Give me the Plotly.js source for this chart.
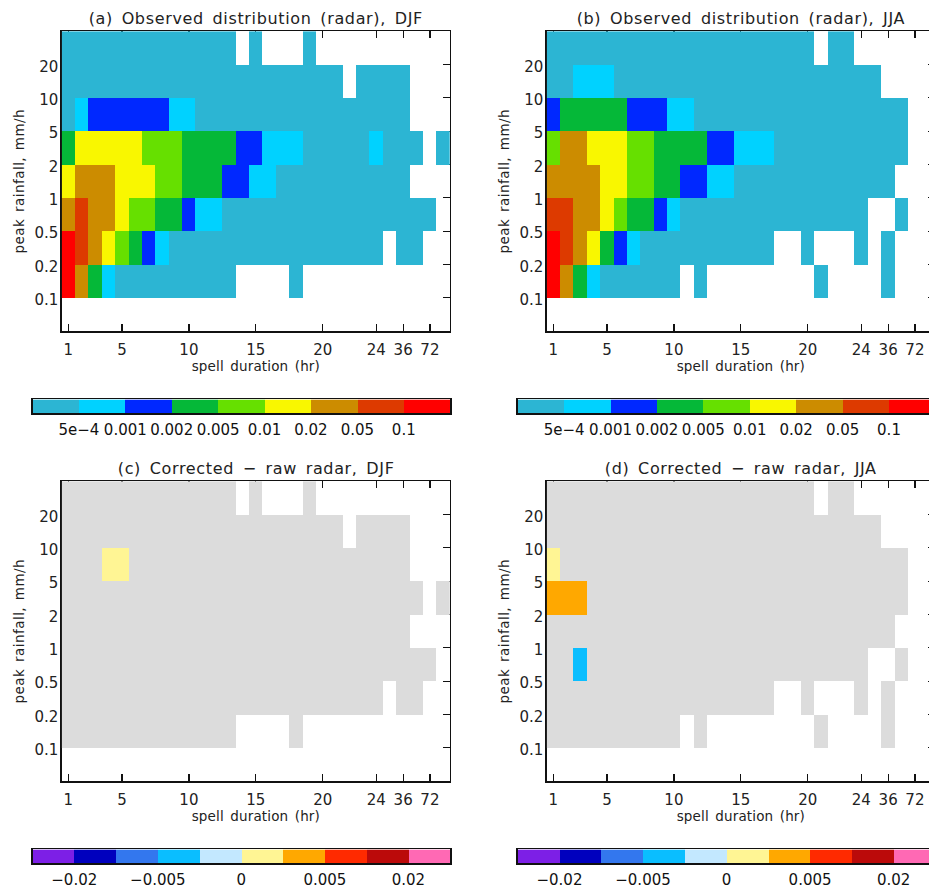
<!DOCTYPE html>
<html><head><meta charset="utf-8">
<script src="https://cdn.plot.ly/plotly-3.0.1.min.js"></script>
<style>html,body{margin:0;padding:0;background:#fff;overflow:hidden}#c{width:945px;height:890px}
#c .annotation-text{letter-spacing:0.65px;word-spacing:3px}
#c .xtitle,#c .x3title,#c .x5title,#c .x7title{letter-spacing:0.15px;word-spacing:2px}
#c .ytitle,#c .y3title,#c .y5title,#c .y7title{letter-spacing:0.45px;word-spacing:2px}</style>
</head><body><div id="c"></div>
<script>
const _ = null;
// Bin index per cell. Rows run top to bottom: 20+, 10-20, 5-10, 2-5, 1-2, 0.5-1, 0.2-0.5, 0.1-0.2, <0.1
const obsDJF = [
[0,0,0,0,0,0,0,0,0,0,0,0,0,_,0,_,_,_,0,_,_,_,_,_,_,_,_,_,_],
[0,0,0,0,0,0,0,0,0,0,0,0,0,0,0,0,0,0,0,0,0,_,0,0,0,0,_,_,_],
[0,1,2,2,2,2,2,2,1,1,0,0,0,0,0,0,0,0,0,0,0,0,0,0,0,0,_,_,_],
[3,5,5,5,5,5,4,4,4,3,3,3,3,2,2,1,1,1,0,0,0,0,0,1,0,0,0,_,0],
[5,6,6,6,5,5,5,4,4,3,3,3,2,2,1,1,0,0,0,0,0,0,0,0,0,0,_,_,_],
[6,7,6,6,5,4,4,3,3,2,1,1,0,0,0,0,0,0,0,0,0,0,0,0,0,0,0,0,_],
[8,7,6,5,4,3,2,1,0,0,0,0,0,0,0,0,0,0,0,0,0,0,0,0,_,0,0,_,_],
[8,6,3,1,0,0,0,0,0,0,0,0,0,_,_,_,_,0,_,_,_,_,_,_,_,_,_,_,_],
[_,_,_,_,_,_,_,_,_,_,_,_,_,_,_,_,_,_,_,_,_,_,_,_,_,_,_,_,_]];
const obsJJA = [
[0,0,0,0,0,0,0,0,0,0,0,0,0,0,0,0,0,0,0,0,_,0,0,_,_,_,_,_,_],
[0,0,1,1,1,0,0,0,0,0,0,0,0,0,0,0,0,0,0,0,0,0,0,0,0,_,_,_,_],
[2,3,3,3,3,3,2,2,2,1,1,0,0,0,0,0,0,0,0,0,0,0,0,0,0,0,0,_,_],
[4,6,6,5,5,5,4,4,3,3,3,3,2,2,1,1,1,0,0,0,0,0,0,0,0,0,0,_,_],
[6,6,6,6,5,5,4,4,3,3,2,2,1,1,0,0,0,0,0,0,0,0,0,0,0,0,_,_,_],
[7,7,6,6,5,4,3,3,2,1,0,0,0,0,0,0,0,0,0,0,0,0,0,0,_,_,0,_,_],
[8,7,6,5,3,2,1,0,0,0,0,0,0,0,0,0,0,_,_,0,_,_,_,0,_,0,_,_,_],
[8,6,3,1,0,0,0,0,0,0,_,0,_,_,_,_,_,_,_,_,0,_,_,_,_,0,_,_,_],
[_,_,_,_,_,_,_,_,_,_,_,_,_,_,_,_,_,_,_,_,_,_,_,_,_,_,_,_,_]];
// Difference panels: 10 = grey (no significant change), otherwise colourbar bin index
const diffDJF = [
[10,10,10,10,10,10,10,10,10,10,10,10,10,_,10,_,_,_,10,_,_,_,_,_,_,_,_,_,_],
[10,10,10,10,10,10,10,10,10,10,10,10,10,10,10,10,10,10,10,10,10,_,10,10,10,10,_,_,_],
[10,10,10,5,5,10,10,10,10,10,10,10,10,10,10,10,10,10,10,10,10,10,10,10,10,10,_,_,_],
[10,10,10,10,10,10,10,10,10,10,10,10,10,10,10,10,10,10,10,10,10,10,10,10,10,10,10,_,10],
[10,10,10,10,10,10,10,10,10,10,10,10,10,10,10,10,10,10,10,10,10,10,10,10,10,10,_,_,_],
[10,10,10,10,10,10,10,10,10,10,10,10,10,10,10,10,10,10,10,10,10,10,10,10,10,10,10,10,_],
[10,10,10,10,10,10,10,10,10,10,10,10,10,10,10,10,10,10,10,10,10,10,10,10,_,10,10,_,_],
[10,10,10,10,10,10,10,10,10,10,10,10,10,_,_,_,_,10,_,_,_,_,_,_,_,_,_,_,_],
[_,_,_,_,_,_,_,_,_,_,_,_,_,_,_,_,_,_,_,_,_,_,_,_,_,_,_,_,_]];
const diffJJA = [
[10,10,10,10,10,10,10,10,10,10,10,10,10,10,10,10,10,10,10,10,_,10,10,_,_,_,_,_,_],
[10,10,10,10,10,10,10,10,10,10,10,10,10,10,10,10,10,10,10,10,10,10,10,10,10,_,_,_,_],
[5,10,10,10,10,10,10,10,10,10,10,10,10,10,10,10,10,10,10,10,10,10,10,10,10,10,10,_,_],
[6,6,6,10,10,10,10,10,10,10,10,10,10,10,10,10,10,10,10,10,10,10,10,10,10,10,10,_,_],
[10,10,10,10,10,10,10,10,10,10,10,10,10,10,10,10,10,10,10,10,10,10,10,10,10,10,_,_,_],
[10,10,3,10,10,10,10,10,10,10,10,10,10,10,10,10,10,10,10,10,10,10,10,10,_,_,10,_,_],
[10,10,10,10,10,10,10,10,10,10,10,10,10,10,10,10,10,_,_,10,_,_,_,10,_,10,_,_,_],
[10,10,10,10,10,10,10,10,10,10,_,10,_,_,_,_,_,_,_,_,10,_,_,_,_,10,_,_,_],
[_,_,_,_,_,_,_,_,_,_,_,_,_,_,_,_,_,_,_,_,_,_,_,_,_,_,_,_,_]];

const obsColors = ['#2CB5D3','#00D2FF','#0028FF','#05B838','#66E000','#F9F700','#CC8C00','#DD3A00','#FF0000'];
const diffColors = ['#7D1FE6','#0000BE','#3377EE','#0ABEFF','#C3E8FF','#FFF594','#FFA800','#FF2A00','#BB0A0A','#FF69B4','#DCDCDC'];
const obsBarLabels = ['5e\u22124','0.001','0.002','0.005','0.01','0.02','0.05','0.1'];
const obsBarTicks = [1,2,3,4,5,6,7,8];
const diffBarLabels = ['\u22120.02','\u22120.005','0','0.005','0.02'];
const diffBarTicks = [1,3,5,7,9];
const durationTicks = [1,5,10,15,20,24,26,28];
const durationLabels = ['1','5','10','15','20','24','36','72'];
const rainTicks = [1,2,3,4,5,6,7,8];
const rainLabels = ['0.1','0.2','0.5','1','2','5','10','20'];
const titles = ['(a) Observed distribution (radar), DJF','(b) Observed distribution (radar), JJA','(c) Corrected \u2212 raw radar, DJF','(d) Corrected \u2212 raw radar, JJA'];

const W=945, H=890, FONT='"DejaVu Sans", sans-serif', INK='#222';
const panels = [
 {z:obsDJF,  colors:obsColors,  bt:obsBarTicks,  bl:obsBarLabels,  x0:61.7,  y0:31.2,  bx0:32.5},
 {z:obsJJA,  colors:obsColors,  bt:obsBarTicks,  bl:obsBarLabels,  x0:546.7, y0:31.2,  bx0:517.7},
 {z:diffDJF, colors:diffColors, bt:diffBarTicks, bl:diffBarLabels, x0:61.7,  y0:481.2, bx0:32.5},
 {z:diffJJA, colors:diffColors, bt:diffBarTicks, bl:diffBarLabels, x0:546.7, y0:481.2, bx0:517.7}];

function steps(cols){const n=cols.length,o=[];cols.forEach((c,i)=>{o.push([i/n,c],[(i+1)/n,c]);});return o;}
const dur = Array.from({length:29},(_v,i)=>i+1);
const rows = [8.5,7.5,6.5,5.5,4.5,3.5,2.5,1.5,0.5];
const data=[]; const layout={width:W,height:H,margin:{l:0,r:0,t:0,b:0},paper_bgcolor:'#fff',plot_bgcolor:'#fff',showlegend:false,font:{family:FONT,color:INK},annotations:[]};
const line={showline:true,linecolor:'#111',linewidth:1.3,mirror:true,showgrid:false,zeroline:false};
panels.forEach((p,i)=>{
  const a=2*i+1,b=2*i+2,n=p.colors.length;
  const ks=c=>c===1?'':c;
  data.push({type:'heatmap',x:dur,y:rows,z:p.z,xaxis:'x'+ks(a),yaxis:'y'+ks(a),colorscale:steps(p.colors),zmin:-0.5,zmax:n-0.5,showscale:false,hoverongaps:false,xgap:0,ygap:0});
  const barN=p.colors===diffColors?10:9;
  const barVals=Array.from({length:barN},(_v,k)=>k);
  const barCenters=barVals.map(k=>k+0.5);
  data.push({type:'heatmap',x:barCenters,y:[0.5],z:[barVals],xaxis:'x'+b,yaxis:'y'+b,colorscale:steps(p.colors),zmin:-0.5,zmax:n-0.5,showscale:false,hoverinfo:'skip'});
  const dx=[p.x0/W,(p.x0+388.3)/W], dy=[1-(p.y0+300)/H,1-p.y0/H];
  layout['xaxis'+ks(a)]=Object.assign({},line,{domain:dx,anchor:'y'+ks(a),range:[0.5,29.5],layer:'below traces',mirror:'ticks',tickmode:'array',tickvals:durationTicks,ticktext:durationLabels,ticks:'inside',ticklen:7,tickwidth:1.2,tickcolor:'#111',tickangle:0,tickfont:{size:15,color:INK,family:FONT},ticklabelstandoff:4,title:{text:'spell duration (hr)',font:{size:13.5,color:INK,family:FONT},standoff:2}});
  layout['yaxis'+ks(a)]=Object.assign({},line,{domain:dy,anchor:'x'+ks(a),range:[0,9],layer:'below traces',mirror:'ticks',tickmode:'array',tickvals:rainTicks,ticktext:rainLabels,ticks:'inside',ticklen:7,tickwidth:1.2,tickcolor:'#111',tickfont:{size:15,color:INK,family:FONT},ticklabelstandoff:-1,ticklabelshift:2,title:{text:'peak rainfall, mm/h',font:{size:13.5,color:INK,family:FONT},standoff:6}});
  layout['xaxis'+b]=Object.assign({},line,{domain:[p.bx0/W,(p.bx0+417.7)/W],anchor:'y'+b,range:[0,barN],tickmode:'array',tickvals:p.bt,ticktext:p.bl,ticks:'',tickangle:0,tickfont:{size:15,color:'#111',family:FONT},ticklabelstandoff:2});
  layout['yaxis'+b]=Object.assign({},line,{domain:[1-(p.y0+382.2)/H,1-(p.y0+368.2)/H],anchor:'x'+b,range:[0,1],ticks:'',showticklabels:false});
  layout.annotations.push({xref:'paper',yref:'paper',x:(p.x0+194)/W,y:1-(p.y0-13)/H,xanchor:'center',yanchor:'middle',showarrow:false,text:titles[i],font:{size:16,color:INK,family:FONT}});
});
Plotly.newPlot('c',data,layout,{displayModeBar:false,staticPlot:true});
</script></body></html>
